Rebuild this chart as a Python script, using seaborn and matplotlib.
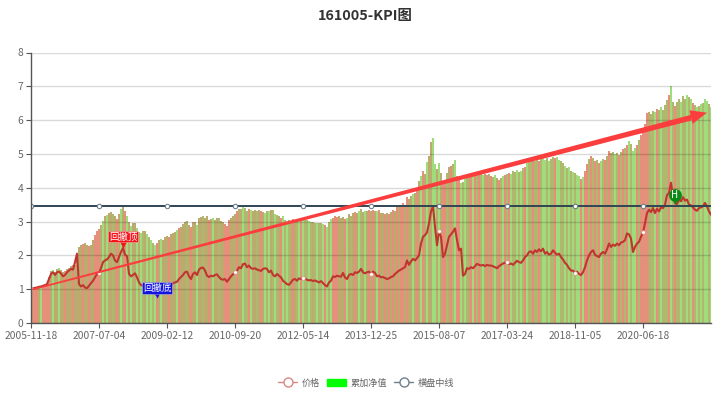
import matplotlib
matplotlib.use('Agg')
import matplotlib.pyplot as plt
from matplotlib.lines import Line2D
from matplotlib.patches import Patch
from matplotlib.transforms import offset_copy
import numpy as np
import pandas as pd
import seaborn as sns

tick_dates = ['2005-11-18', '2007-07-04', '2009-02-12', '2010-09-20', '2012-05-14',
              '2013-12-25', '2015-08-07', '2017-03-24', '2018-11-05', '2020-06-18']

nav = [1.00,1.02,1.04,1.05,1.07,1.08,1.10,1.12,1.15,1.35,1.55,1.58,1.52,1.60,1.62,1.57,1.50,1.54,1.60,1.64,1.70,1.72,1.72,2.05,2.25,2.30,2.33,2.36,2.30,2.28,2.32,2.45,2.60,2.72,
       2.78,2.90,3.02,3.15,3.20,3.25,3.28,3.22,3.15,3.08,3.22,3.36,3.42,3.30,3.15,3.00,2.88,2.95,2.96,2.82,2.68,2.66,2.72,2.73,2.62,2.55,2.45,2.38,2.30,2.38,2.45,2.48,2.44,2.55,
       2.58,2.55,2.62,2.66,2.68,2.74,2.80,2.85,2.92,3.00,3.02,2.90,2.85,2.98,3.00,2.90,3.10,3.14,3.15,3.10,3.15,3.05,3.08,3.10,3.05,3.12,3.10,3.02,2.98,2.92,2.88,3.05,3.12,3.16,
       3.22,3.30,3.38,3.36,3.42,3.40,3.32,3.38,3.35,3.32,3.34,3.30,3.35,3.30,3.28,3.24,3.30,3.32,3.33,3.34,3.22,3.20,3.15,3.10,3.15,3.05,3.02,3.04,3.03,3.08,3.05,3.06,3.04,3.02,
       3.05,3.06,3.05,3.02,3.00,2.98,2.96,2.95,2.97,2.96,2.92,2.90,2.85,3.00,3.08,3.12,3.15,3.13,3.16,3.12,3.14,3.08,3.10,3.22,3.15,3.24,3.28,3.25,3.32,3.36,3.28,3.32,3.30,3.34,
       3.30,3.35,3.32,3.30,3.33,3.26,3.25,3.22,3.24,3.22,3.28,3.34,3.32,3.42,3.45,3.46,3.55,3.50,3.72,3.68,3.75,3.82,3.85,3.95,4.20,4.35,4.50,4.40,4.75,4.95,5.35,5.48,4.70,4.55,
       4.72,4.45,4.10,4.20,4.45,4.62,4.65,4.70,4.82,4.35,4.30,4.15,4.18,4.25,4.32,4.35,4.33,4.38,4.36,4.40,4.42,4.40,4.38,4.42,4.38,4.40,4.36,4.33,4.38,4.28,4.24,4.30,4.35,4.38,
       4.42,4.45,4.42,4.50,4.46,4.52,4.48,4.50,4.58,4.62,4.72,4.78,4.82,4.85,4.80,4.88,4.78,4.85,4.90,4.82,4.88,4.80,4.86,4.90,4.88,4.92,4.82,4.78,4.72,4.65,4.58,4.60,4.50,4.48,
       4.44,4.38,4.35,4.25,4.32,4.50,4.70,4.85,4.95,4.88,4.80,4.82,4.72,4.78,4.85,4.82,4.95,5.08,5.02,5.05,5.00,5.02,4.98,5.05,5.15,5.18,5.25,5.38,5.30,5.08,5.18,5.25,5.40,5.55,
       5.65,5.90,6.22,6.25,6.18,6.28,6.25,6.32,6.30,6.38,6.30,6.45,6.60,6.75,7.00,6.55,6.42,6.55,6.62,6.55,6.70,6.62,6.75,6.68,6.62,6.52,6.45,6.38,6.42,6.48,6.52,6.62,6.58,6.48,6.38]

price = [1.00,1.02,1.04,1.05,1.07,1.08,1.10,1.12,1.15,1.30,1.45,1.50,1.42,1.50,1.52,1.46,1.38,1.42,1.50,1.55,1.60,1.58,1.80,2.05,1.15,1.08,1.12,1.05,1.03,1.10,1.18,1.25,1.35,1.45,
         1.48,1.62,1.80,1.85,1.88,1.95,2.05,2.00,1.85,1.80,1.95,2.10,2.22,2.02,1.98,1.45,1.38,1.42,1.47,1.35,1.20,1.12,1.10,1.08,1.05,0.98,0.95,0.90,0.86,0.82,0.95,1.00,0.96,1.02,
         1.05,1.02,1.12,1.18,1.20,1.22,1.30,1.36,1.42,1.50,1.52,1.38,1.30,1.45,1.50,1.42,1.58,1.63,1.64,1.55,1.40,1.36,1.40,1.38,1.42,1.44,1.36,1.30,1.28,1.30,1.22,1.30,1.38,1.44,
         1.50,1.55,1.65,1.62,1.74,1.76,1.65,1.70,1.62,1.60,1.62,1.58,1.56,1.54,1.60,1.62,1.60,1.50,1.55,1.42,1.38,1.45,1.40,1.35,1.25,1.20,1.15,1.13,1.20,1.28,1.30,1.25,1.32,1.30,
         1.33,1.31,1.28,1.26,1.27,1.24,1.26,1.23,1.20,1.24,1.18,1.12,1.08,1.20,1.25,1.38,1.36,1.40,1.38,1.37,1.48,1.35,1.30,1.42,1.45,1.42,1.50,1.48,1.52,1.60,1.50,1.47,1.50,1.52,
         1.45,1.52,1.48,1.38,1.40,1.35,1.36,1.33,1.30,1.32,1.36,1.38,1.45,1.50,1.55,1.58,1.62,1.65,1.85,1.72,1.82,1.90,1.85,1.92,2.00,2.35,2.55,2.60,2.68,2.95,3.30,3.45,2.85,2.30,
         2.72,2.55,1.95,2.05,2.30,2.55,2.62,2.70,2.80,2.45,2.15,2.20,1.40,1.45,1.62,1.60,1.65,1.62,1.68,1.75,1.72,1.70,1.72,1.68,1.72,1.70,1.70,1.68,1.65,1.62,1.68,1.72,1.76,1.78,
         1.80,1.74,1.76,1.72,1.78,1.84,1.80,1.78,1.85,1.95,2.00,2.10,2.12,2.05,2.15,2.10,2.18,2.12,2.20,2.05,2.10,2.02,2.05,2.15,2.08,2.02,2.05,1.95,1.88,1.78,1.72,1.62,1.55,1.55,
         1.48,1.52,1.45,1.42,1.50,1.65,1.85,2.00,2.10,2.15,2.02,1.98,1.95,2.05,2.10,2.05,2.18,2.35,2.25,2.32,2.28,2.35,2.30,2.38,2.40,2.45,2.65,2.62,2.50,2.10,2.25,2.35,2.40,2.55,
         2.68,2.95,3.25,3.35,3.28,3.40,3.25,3.38,3.30,3.42,3.40,3.50,3.78,3.85,4.15,3.75,3.55,3.52,3.65,3.60,3.72,3.62,3.65,3.50,3.48,3.42,3.35,3.32,3.40,3.42,3.45,3.55,3.45,3.30,3.20]

# r = falling day, g = rising day, m / o = both within the pixel, o leaning to rising
nav_state = ("rrrrmgrrrrmgmmgmmrmmmrmmmmrmmrmmrr"
             "rmgmgmmomrmgmrgmgmmgmgomgogogrmgmm"
             "mrmmmgrmmmomrmmgmmommrmgmmommrrrmm"
             "mrmmgoorgmmomrmgogmogomrgogomrmogr"
             "googomogoogrgogrrrmmmrgmomrmgomgmr"
             "mrmgrmmrmrmrmrmrrmrmmgmrmgrmgmmggm"
             "gmrromrogrrgogomrgrorogmrmrogmrogr"
             "orgoogogorgoorooroggogoorggoogogog"
             "oggrgrrorororgormrmogorororgoggror"
             "rrrmoogrogooorgoroogoogogrogogoggog")

center_line = 3.47
arrow_from = (0, 1.0)
arrow_to = (338, 6.22)
arrow_neck = (330, 6.09)
peak_idx, trough_idx, hold_idx = 46, 63, 322
tick_step = 34

sns.set_theme(style='white')
plt.rcParams['font.family'] = ['Noto Sans CJK SC', 'DejaVu Sans']

idx = np.arange(len(nav))
df = pd.DataFrame({'idx': idx, 'nav': nav, 'price': price, 'state': list(nav_state)})
df['center'] = center_line
ticks_df = df[df['idx'] % tick_step == 0].iloc[:len(tick_dates)]

fig = plt.figure(figsize=(7.2, 3.96), dpi=100)
ax = fig.add_axes([31/720, 1 - 323/396, 680/720, (323 - 52.5)/396])

sns.barplot(ax=ax, data=df, x='idx', y='nav', hue='state', native_scale=True, dodge=False, width=1.0,
            palette={'r': '#e5907a', 'g': '#a0dc7c', 'm': '#bcab6e', 'o': '#afb86e'}, saturation=1,
            errorbar=None, linewidth=0, legend=False, zorder=2)
sns.lineplot(ax=ax, data=df, x='idx', y='price', color='#c0352f', lw=1.5, zorder=4, errorbar=None)
sns.scatterplot(ax=ax, data=ticks_df, x='idx', y='price', color='white', edgecolor='#d98880', s=7, lw=0.4, zorder=5)
sns.lineplot(ax=ax, data=df, x='idx', y='center', color='#2f4554', lw=1.4, zorder=4, errorbar=None)
sns.scatterplot(ax=ax, data=ticks_df, x='idx', y='center', color='white', edgecolor='#6f7f8c', s=10, lw=0.8, zorder=5)

# arrow: body gets wider towards the head
ax.fill_between([arrow_from[0], arrow_neck[0]],
                [arrow_from[1] - 0.025, arrow_neck[1] - 0.085],
                [arrow_from[1] + 0.025, arrow_neck[1] + 0.085],
                color='#fb3d3d', lw=0, zorder=6)
ax.fill([arrow_neck[0] + 0.8, arrow_to[0], arrow_neck[0] - 0.8],
        [arrow_neck[1] - 0.2, arrow_to[1], arrow_neck[1] + 0.2],
        color='#fb3d3d', lw=0, zorder=6)


def pin(x, y, color, label, lift, size, label_size):
    head = offset_copy(ax.transData, fig=fig, y=lift, units='dots')
    tail = offset_copy(ax.transData, fig=fig, y=lift * 0.35, units='dots')
    ax.scatter([x], [y], marker='o', s=size, color=color, lw=0, transform=head, zorder=7)
    ax.scatter([x], [y], marker='v', s=size * 0.5, color=color, lw=0, transform=tail, zorder=7)
    ax.text(x, y, label, transform=head, color='white', fontsize=label_size, ha='center', va='center', zorder=8,
            bbox=dict(fc=color, ec='#ffffff88', lw=0.4, pad=0.6) if len(label) > 1 else None)


pin(peak_idx, price[peak_idx], '#f4141a', '回撤顶', 11, 70, 6.8)
pin(trough_idx, price[trough_idx] - 0.05, '#1414e0', '回撤底', 9, 70, 6.8)
pin(hold_idx, price[hold_idx] - 0.02, '#0b8a16', 'H', 9, 85, 7)

ax.set_xlim(0, 340)
ax.set_ylim(0, 8)
ax.set_xticks(ticks_df['idx'], tick_dates)
ax.set_yticks(range(9))
ax.set_xlabel('')
ax.set_ylabel('')
ax.set_axisbelow(False)
ax.yaxis.grid(True, color='black', alpha=0.15, lw=1)
ax.xaxis.grid(False)
for side in ['top', 'right']:
    ax.spines[side].set_visible(False)
for side in ['left', 'bottom']:
    ax.spines[side].set_color('#555555')
    ax.spines[side].set_linewidth(1)
    ax.spines[side].set_zorder(6)
ax.tick_params(axis='both', length=3.5, width=0.8, color='#555555', labelcolor='#666666', labelsize=7.4, pad=2, bottom=True, left=True)

fig.text(365.5/720, 1 - 16/396, '161005-KPI图', ha='center', va='center', fontsize=10.4, fontweight='bold', color='#333333')

handles = [Line2D([], [], color='#d98880', lw=1, marker='o', ms=6.5, mfc='white', mec='#d98880', mew=1),
           Patch(color='#00ff00'),
           Line2D([], [], color='#6f7f8c', lw=1, marker='o', ms=6.5, mfc='white', mec='#6f7f8c', mew=1)]
fig.legend(handles, ['价格', '累加净值', '横盘中线'], loc='center', bbox_to_anchor=(366/720, 1 - 383/396), ncol=3,
           frameon=False, fontsize=6.6, labelcolor='#666666', handlelength=2.1, handleheight=0.9,
           handletextpad=0.45, columnspacing=0.8)

fig.savefig('out.png', dpi=100)
